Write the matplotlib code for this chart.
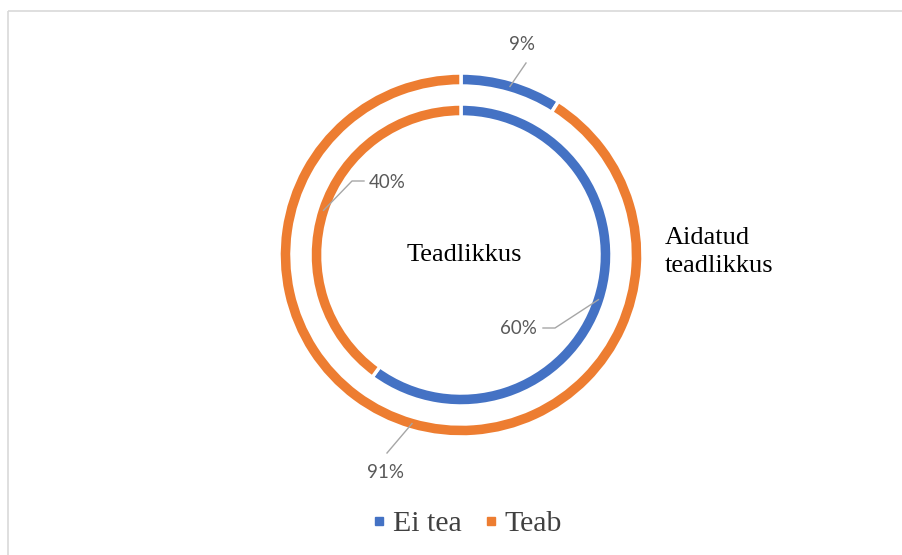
import numpy as np
import matplotlib.pyplot as plt
from matplotlib.lines import Line2D
from matplotlib.patches import Rectangle

# Data
categories = ['Ei tea', 'Teab']
outer_values = [9, 91]    # Aidatud teadlikkus
inner_values = [60, 40]   # Teadlikkus
colors = ['#4472C4', '#ED7D31']

# Layout (pixel coordinates, y pointing down)
W, H = 902, 555
cx, cy = 461, 255
r_outer, r_inner, ring_w = 182, 151, 13

fig = plt.figure(figsize=(W / 100, H / 100), dpi=100)
ax = fig.add_axes([0, 0, 1, 1])

# y axis inverted -> start at screen top and go clockwise
outer_wedges, _ = ax.pie(outer_values, colors=colors, radius=r_outer, center=(cx, cy),
                         startangle=-90, counterclock=True,
                         wedgeprops=dict(width=ring_w, edgecolor='white', linewidth=2.5))
inner_wedges, _ = ax.pie(inner_values, colors=colors, radius=r_inner, center=(cx, cy),
                         startangle=-90, counterclock=True,
                         wedgeprops=dict(width=ring_w, edgecolor='white', linewidth=2.5))

ax.set_xlim(0, W)
ax.set_ylim(H, 0)
ax.set_aspect('equal')
ax.axis('off')


def mid_point(wedge, r):
    ang = np.deg2rad((wedge.theta1 + wedge.theta2) / 2)
    return cx + r * np.cos(ang), cy + r * np.sin(ang)


line_kw = dict(color='#A6A6A6', lw=1.0)
lab_kw = dict(fontsize=13.5, color='#595959', family='Lato', va='center')

# outer ring labels
x0, y0 = mid_point(outer_wedges[0], r_outer - ring_w / 2)
ax.plot([x0, 526], [y0, 63], **line_kw)
ax.text(522, 45, f'{outer_values[0]}%', ha='center', **lab_kw)

x0, y0 = mid_point(outer_wedges[1], r_outer - ring_w / 2)
ax.plot([x0, 387], [y0, 453], **line_kw)
ax.text(385, 472, f'{outer_values[1]}%', ha='center', **lab_kw)

# inner ring labels
x0, y0 = mid_point(inner_wedges[0], r_inner - ring_w / 2)
ax.plot([x0, 555, 543], [y0, 328, 328], **line_kw)
ax.text(537, 328, f'{inner_values[0]}%', ha='right', **lab_kw)

x0, y0 = mid_point(inner_wedges[1], r_inner - ring_w / 2)
ax.plot([x0, 352, 364], [y0, 181, 181], **line_kw)
ax.text(369, 183, f'{inner_values[1]}%', ha='left', **lab_kw)

# ring titles
ax.text(464, 255, 'Teadlikkus', family='Liberation Serif', fontsize=19,
        ha='center', va='center', color='black')
ax.text(665, 252, 'Aidatud\nteadlikkus', family='Liberation Serif', fontsize=19,
        ha='left', va='center', color='black', linespacing=1.35)

# legend
handles = [Line2D([], [], marker='s', linestyle='none', markersize=6,
                  markerfacecolor=c, markeredgecolor=c) for c in colors]
leg = ax.legend(handles, categories, loc='center', ncol=2, frameon=False,
                bbox_to_anchor=(467 / W, 1 - 524 / H), bbox_transform=fig.transFigure,
                handlelength=0.5, handletextpad=0.2, columnspacing=0.75,
                prop={'family': 'Liberation Serif', 'size': 21.5})
for t in leg.get_texts():
    t.set_color('#404040')

# chart frame
ax.add_patch(Rectangle((7.5, 10.5), W, H, fill=False, edgecolor='#D9D9D9', lw=1.2,
                       clip_on=False))

fig.savefig('out.png', dpi=100, facecolor='white')
